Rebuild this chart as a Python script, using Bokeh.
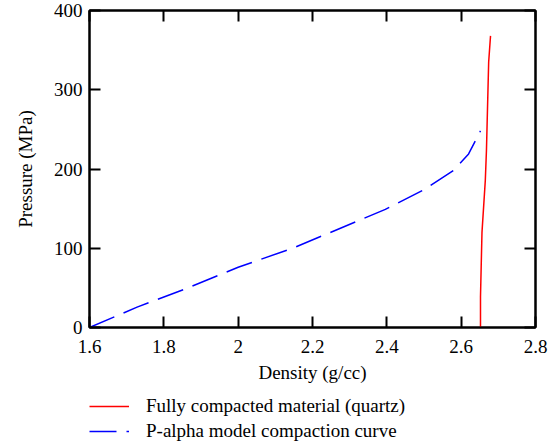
from bokeh.plotting import figure
from bokeh.models import LinearAxis, Legend, LegendItem, FixedTicker, Range1d
from bokeh.layouts import column
from bokeh.embed import file_html
from bokeh.resources import INLINE

# P-alpha model compaction curve
palpha_density = [1.6, 1.728, 1.863, 2.0, 2.149, 2.396, 2.499, 2.58, 2.62, 2.652]
palpha_pressure = [0, 25.7, 49.6, 76, 100.5, 149, 173.7, 198.5, 219, 248]

# Fully compacted material (quartz)
quartz_density = [2.652, 2.652, 2.656, 2.665, 2.668, 2.674, 2.679]
quartz_pressure = [0, 39, 120, 186, 223, 335, 368]

x_ticks = [1.6, 1.8, 2.0, 2.2, 2.4, 2.6, 2.8]
x_tick_labels = ["1.6", "1.8", "2", "2.2", "2.4", "2.6", "2.8"]
y_ticks = [0, 100, 200, 300, 400]
y_tick_labels = ["0", "100", "200", "300", "400"]

series_labels = ["Fully compacted material (quartz)", "P-alpha model compaction curve"]

FONT = "Liberation Serif"
FS = "19px"
RED = "#ff0000"
BLUE = "#0000ff"
DASH = "27 10"

p = figure(width=555, height=385, output_backend="svg", toolbar_location=None,
           x_range=Range1d(1.6, 2.8), y_range=Range1d(0, 400),
           min_border_left=89, min_border_right=20, min_border_top=10, min_border_bottom=55)
p.xgrid.visible = False
p.ygrid.visible = False
p.outline_line_color = "black"
p.outline_line_width = 2
p.background_fill_color = "white"
p.border_fill_color = "white"

p.add_layout(LinearAxis(), "above")
p.add_layout(LinearAxis(), "right")

for ax in p.axis:
    ax.major_tick_in = 11
    ax.major_tick_out = 0
    ax.minor_tick_line_color = None
    ax.axis_line_width = 2
    ax.major_tick_line_width = 2
    ax.axis_line_color = "black"
    ax.major_tick_line_color = "black"
    ax.major_label_text_font = FONT
    ax.major_label_text_font_size = FS
    ax.major_label_text_color = "black"
    ax.axis_label_text_font = FONT
    ax.axis_label_text_font_size = FS
    ax.axis_label_text_font_style = "normal"
    ax.axis_label_text_color = "black"

for ax in p.xaxis:
    ax.ticker = FixedTicker(ticks=x_ticks)
    ax.major_label_overrides = dict(zip(x_ticks, x_tick_labels))
for ax in p.yaxis:
    ax.ticker = FixedTicker(ticks=y_ticks)
    ax.major_label_overrides = dict(zip(y_ticks, y_tick_labels))

for ax in (p.above[0], p.right[0]):
    ax.major_label_text_font_size = "1px"
    ax.major_label_text_color = None
    ax.major_label_standoff = 0

p.below[0].axis_label = "Density (g/cc)"
p.below[0].major_label_standoff = 12
p.below[0].axis_label_standoff = 6
p.left[0].axis_label = "Pressure (MPa)"
p.left[0].major_label_standoff = 7
p.left[0].axis_label_standoff = 15

p.line(quartz_density, quartz_pressure, line_color=RED, line_width=1.5)
p.line(palpha_density, palpha_pressure, line_color=BLUE, line_width=1.5, line_dash=DASH)

# legend panel underneath the plot (its frame aligns with the plot frame)
lg = figure(width=555, height=59, output_backend="svg", toolbar_location=None,
            x_range=Range1d(0, 1), y_range=Range1d(0, 1),
            x_axis_location=None, y_axis_location=None,
            min_border_left=89, min_border_right=20, min_border_top=0, min_border_bottom=0)
lg.grid.visible = False
lg.outline_line_color = None
lg.background_fill_color = "white"
lg.border_fill_color = "white"
# sample renderers for the legend keys (their data lies outside this panel's ranges)
k_red = lg.line(quartz_density, quartz_pressure, line_color=RED, line_width=1.5)
k_blue = lg.line(palpha_density, palpha_pressure, line_color=BLUE, line_width=1.5, line_dash=DASH)

legend = Legend(items=[LegendItem(label=series_labels[0], renderers=[k_red]),
                       LegendItem(label=series_labels[1], renderers=[k_blue])],
                location=(0, 2), border_line_color=None, background_fill_alpha=0,
                label_text_font=FONT, label_text_font_size=FS, label_text_color="black",
                glyph_width=40, glyph_height=22, label_height=22, spacing=3,
                padding=2, margin=0, label_standoff=17)
lg.add_layout(legend, "center")

layout = column(p, lg, spacing=0)
open("out.html", "w").write(file_html(layout, INLINE))
